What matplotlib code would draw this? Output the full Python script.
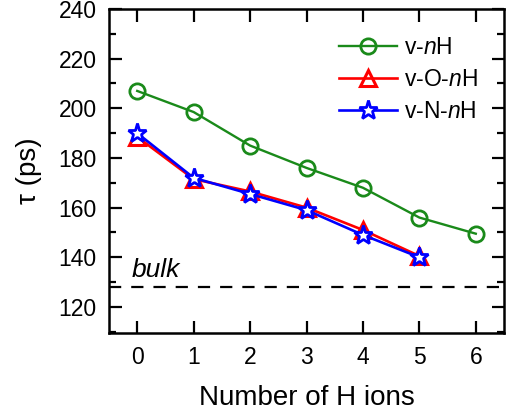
import numpy as np
import matplotlib
matplotlib.use("Agg")
import matplotlib.pyplot as plt
from matplotlib.ticker import MultipleLocator

plt.rcParams['font.family'] = ['Liberation Sans', 'DejaVu Sans']
plt.rcParams['mathtext.fontset'] = 'custom'
plt.rcParams['mathtext.it'] = 'Liberation Sans:italic'
plt.rcParams['mathtext.rm'] = 'Liberation Sans'

# data
n_ions = [0, 1, 2, 3, 4, 5, 6]
tau_vnH = [207, 198.5, 185, 176, 168, 156, 149.5]
n_ions_short = [0, 1, 2, 3, 4, 5]
tau_vOnH = [188.5, 171.5, 166.5, 160, 151, 140.5]
tau_vNnH = [190, 172, 165.5, 159, 149, 140]
tau_bulk = 128

fig = plt.figure(figsize=(5.13, 4.18), dpi=100)
ax = fig.add_axes([109/513, 1 - 333/418, 395/513, 324/418])

ax.plot(n_ions, tau_vnH, '-o', color='#1a8a1a', mfc='none', mec='#1a8a1a',
        ms=11, mew=2, lw=1.7, label=r'v-$n$H')
ax.plot(n_ions_short, tau_vOnH, '-^', color='red', mfc='none', mec='red',
        ms=12, mew=2.2, lw=1.9, label=r'v-O-$n$H')
ax.plot(n_ions_short, tau_vNnH, '-*', color='blue', mfc='white', mec='blue',
        ms=14, mew=2, lw=1.9, label=r'v-N-$n$H')
ax.axhline(tau_bulk, color='black', ls=(0, (5.5, 4.5)), lw=1.6)
ax.text(-0.1, 132, 'bulk', style='italic', fontsize=19)

ax.set_xlim(-0.5, 6.5)
ax.set_ylim(109.5, 240)
ax.set_xticks(n_ions)
ax.yaxis.set_major_locator(MultipleLocator(20))
ax.yaxis.set_minor_locator(MultipleLocator(10))
ax.tick_params(axis='both', which='both', direction='in', right=True, top=True,
               labelsize=16.5, width=1.6)
ax.tick_params(axis='both', which='major', length=9, pad=9)
ax.tick_params(axis='y', which='minor', length=5)
ax.tick_params(axis='x', which='minor', length=0)
for s in ax.spines.values():
    s.set_linewidth(1.8)

ax.set_xlabel('Number of H ions', fontsize=20, labelpad=12)
ax.set_ylabel('τ (ps)', fontsize=20, labelpad=12)

ax.legend(loc='upper right', bbox_to_anchor=(0.956, 0.945), frameon=False,
          fontsize=16.5, handlelength=2.5, borderaxespad=0, labelspacing=0.4,
          handletextpad=0.3)

fig.savefig('out.png', dpi=100)
